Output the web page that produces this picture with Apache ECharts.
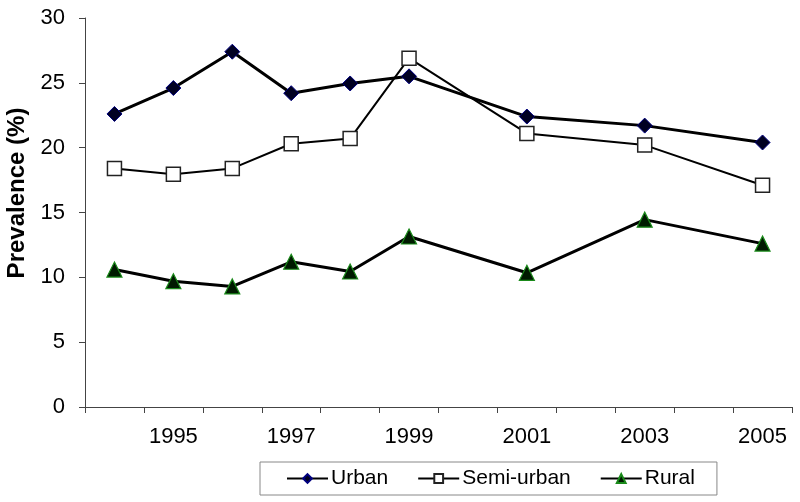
<!DOCTYPE html>
<html>
<head>
<meta charset="utf-8">
<script src="https://cdn.jsdelivr.net/npm/echarts@6/dist/echarts.min.js"></script>
<style>html,body{margin:0;padding:0;background:#fff}#c{width:800px;height:502px}</style>
</head>
<body>
<div id="c"></div>
<script>
const years = ['1994','1995','1996','1997','1998','1999','2000','2001','2002','2003','2004','2005'];
const urban = [22.6, 24.6, 27.4, 24.2, 24.95, 25.5, null, 22.4, null, 21.7, null, 20.4];
const semiUrban = [18.4, 17.95, 18.4, 20.3, 20.7, 26.9, null, 21.1, null, 20.2, null, 17.1];
const rural = [10.6, 9.7, 9.3, 11.2, 10.45, 13.15, null, 10.35, null, 14.45, null, 12.6];
const yTitle = 'Prevalence (%)';
const FONT = 'Liberation Sans, Arial, sans-serif';

const chart = echarts.init(document.getElementById('c'), null, {renderer: 'canvas'});
chart.setOption({
  animation: false,
  backgroundColor: '#fff',
  grid: {left: 85, right: 8, top: 18, bottom: 95, containLabel: false},
  xAxis: {
    type: 'category',
    data: years,
    boundaryGap: true,
    axisLine: {lineStyle: {color: '#444', width: 1}},
    axisTick: {show: true, interval: 0, length: 6, lineStyle: {color: '#444'}},
    axisLabel: {
      interval: function (i) { return i % 2 === 1; },
      color: '#000', fontFamily: FONT, fontSize: 22, margin: 19
    },
    splitLine: {show: false}
  },
  yAxis: {
    type: 'value',
    min: 0, max: 30, interval: 5,
    axisLine: {show: true, lineStyle: {color: '#444', width: 1}},
    axisTick: {show: true, length: 6, lineStyle: {color: '#444'}},
    axisLabel: {color: '#000', fontFamily: FONT, fontSize: 22, margin: 20},
    splitLine: {show: false}
  },
  graphic: [{
    type: 'text',
    x: 17, y: 193,
    rotation: Math.PI / 2,
    style: {
      text: yTitle, fill: '#000', font: 'bold 24px ' + FONT,
      align: 'center', verticalAlign: 'middle'
    }
  }],
  legend: {
    left: 260, top: 462,
    padding: [6, 22, 6, 26],
    itemWidth: 41, itemHeight: 11, itemGap: 29,
    borderColor: '#888', borderWidth: 1,
    textStyle: {color: '#000', fontFamily: FONT, fontSize: 21, padding: [0, 0, 0, -2]},
    data: ['Urban', 'Semi-urban', 'Rural']
  },
  series: [
    {
      name: 'Semi-urban', type: 'line', data: semiUrban, connectNulls: true,
      symbol: 'rect', symbolSize: 14,
      lineStyle: {color: '#000', width: 2},
      itemStyle: {color: '#fff', borderColor: '#222', borderWidth: 1.5},
      z: 2
    },
    {
      name: 'Urban', type: 'line', data: urban, connectNulls: true,
      symbol: 'diamond', symbolSize: 15,
      lineStyle: {color: '#000', width: 3},
      itemStyle: {color: '#000022', borderColor: '#000080', borderWidth: 1},
      z: 3
    },
    {
      name: 'Rural', type: 'line', data: rural, connectNulls: true,
      symbol: 'triangle', symbolSize: 15,
      lineStyle: {color: '#000', width: 3},
      itemStyle: {color: '#001a00', borderColor: '#1a8a1a', borderWidth: 1.2},
      z: 3
    }
  ]
});
</script>
</body>
</html>
